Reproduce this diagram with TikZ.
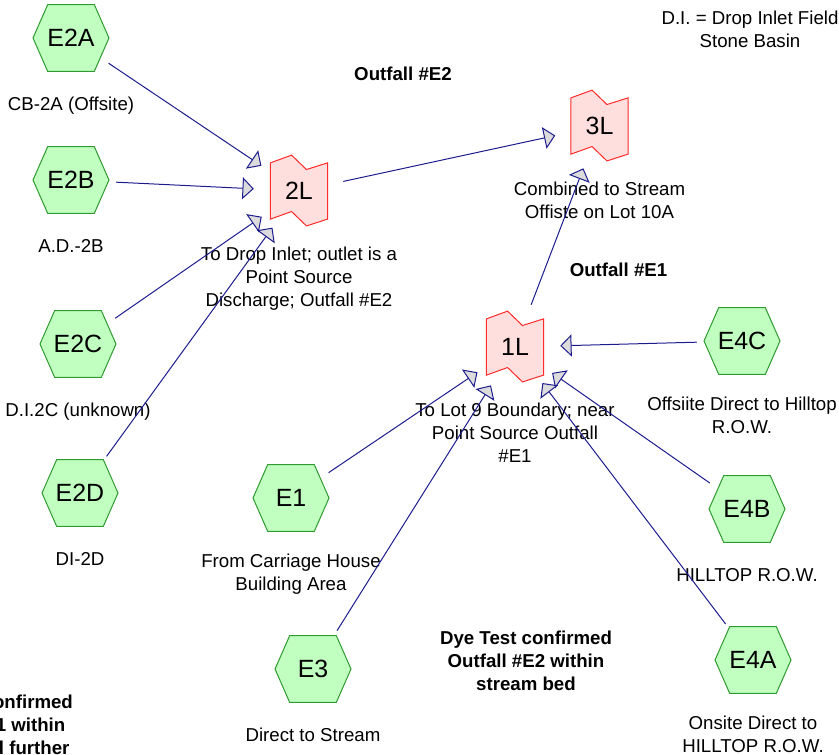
\documentclass[tikz,border=0pt]{standalone}
\usepackage{fontspec}
\setmainfont{Liberation Sans}
\usetikzlibrary{positioning,arrows.meta,calc,backgrounds}
\definecolor{subfill}{HTML}{C0FFC0}
\definecolor{subline}{HTML}{2F9A2F}
\definecolor{pondfill}{HTML}{FFDEDE}
\definecolor{pondline}{HTML}{FF2A2A}
\definecolor{flow}{HTML}{1C1C8E}
\definecolor{tipfill}{HTML}{DCDCDC}

\begin{document}
\begin{tikzpicture}[x=0.75pt,y=-0.75pt,font=\fontsize{14}{17}\selectfont,
  sub/.style={circle,minimum size=67.5pt,inner sep=0pt,font=\fontsize{18.7}{20}\selectfont},
  pond/.style={sub},
  subshape/.style={draw=subline,fill=subfill,line width=0.75pt},
  pondshape/.style={draw=pondline,fill=pondfill,line width=0.75pt},
  note/.style={anchor=north,align=center,inner sep=0pt,execute at begin node=\strut},
  head/.style={note,font=\fontsize{14}{17}\selectfont\bfseries},
  flowline/.style={draw=flow,line width=0.75pt,-{Triangle[length=8.5pt,width=16.5pt,fill=tipfill]}}]
  \useasboundingbox (0,0) rectangle (839,755);

  % subcatchments
  \node[sub] (E2A) at (71,38) {E2A};
  \node[sub] (E2B) at (71,180) {E2B};
  \node[sub] (E2C) at (78,344) {E2C};
  \node[sub] (E2D) at (80,493) {E2D};
  \node[sub] (E1) at (291,498) {E1};
  \node[sub] (E3) at (313,669) {E3};
  \node[sub] (E4C) at (742,341) {E4C};
  \node[sub] (E4B) at (747,509) {E4B};
  \node[sub] (E4A) at (753,660) {E4A};

  % ponds / links
  \node[pond] (L2) at (299,191) {2L};
  \node[pond] (L3) at (599.5,126) {3L};
  \node[pond] (L1) at (515,347) {1L};

  \begin{scope}[on background layer]
    \foreach \n in {E2A,E2B,E2C,E2D,E1,E3,E4C,E4B,E4A}
      \filldraw[subshape] ([xshift=-28.5pt]\n.center) -- ++(11pt,25pt) -- ++(35pt,0pt)
        -- ++(11pt,-25pt) -- ++(-11pt,-25pt) -- ++(-35pt,0pt) -- cycle;
    \foreach \n in {L2,L3,L1}
      \filldraw[pondshape] ([xshift=-21.4pt,yshift=21.1pt]\n.center) -- ++(15.8pt,5.8pt)
        -- ++(11.2pt,-10.8pt) -- ++(15.8pt,5pt) -- ++(0pt,-42.2pt) -- ++(-15.8pt,-5.1pt)
        -- ++(-11.2pt,10.8pt) -- ++(-15.8pt,-5.7pt) -- cycle;
  \end{scope}

  % captions
  \node[note] (E2Atxt) at ($(E2A)+(0,56)$) {CB-2A (Offsite)};
  \node[note] (E2Btxt) at ($(E2B)+(0,56)$) {A.D.-2B};
  \node[note] (E2Ctxt) at ($(E2C)+(0,56)$) {D.I.2C (unknown)};
  \node[note] (E2Dtxt) at ($(E2D)+(0,56)$) {DI-2D};
  \node[note] (E1txt) at ($(E1)+(0,56)$) {From Carriage House\\Building Area};
  \node[note] (E3txt) at ($(E3)+(0,56)$) {Direct to Stream};
  \node[note] (E4Ctxt) at ($(E4C)+(0,56)$) {Offsiite Direct to Hilltop\\R.O.W.};
  \node[note] (E4Btxt) at ($(E4B)+(0,56)$) {HILLTOP R.O.W.};
  \node[note] (E4Atxt) at ($(E4A)+(0,56)$) {Onsite Direct to\\HILLTOP R.O.W.};
  \node[note] (L2txt) at ($(L2)+(0,56)$) {To Drop Inlet; outlet is a\\Point Source\\Discharge; Outfall \#E2};
  \node[note] (L3txt) at ($(L3)+(0,56)$) {Combined to Stream\\Offiste on Lot 10A};
  \node[note] (L1txt) at ($(L1)+(0,56)$) {To Lot 9 Boundary; near\\Point Source Outfall\\\#E1};

  \node[head] (outE2) at (403,64) {Outfall \#E2};
  \node[head] (outE1) at (618.5,260) {Outfall \#E1};
  \node[head] (dyeE2) at (526,631) {Dye Test confirmed\\Outfall \#E2 within\\stream bed};
  \node[head] (dyeE1) at (-13,695) {Dye Test confirmed\\Outfall \#E1 within\\stream bed further};
  \node[note] (key) at (750,11) {D.I. = Drop Inlet Field\\Stone Basin};

  % flow paths
  \draw[flowline] (E2A) -- (L2);
  \draw[flowline] (E2B) -- (L2);
  \draw[flowline] (E2C) -- (L2);
  \draw[flowline] (E2D) -- (L2);
  \draw[flowline] (L2) -- (L3);
  \draw[flowline] (L1) -- (L3);
  \draw[flowline] (E4C) -- (L1);
  \draw[flowline] (E4B) -- (L1);
  \draw[flowline] (E4A) -- (L1);
  \draw[flowline] (E1) -- (L1);
  \draw[flowline] (E3) -- (L1);
\end{tikzpicture}
\end{document}
